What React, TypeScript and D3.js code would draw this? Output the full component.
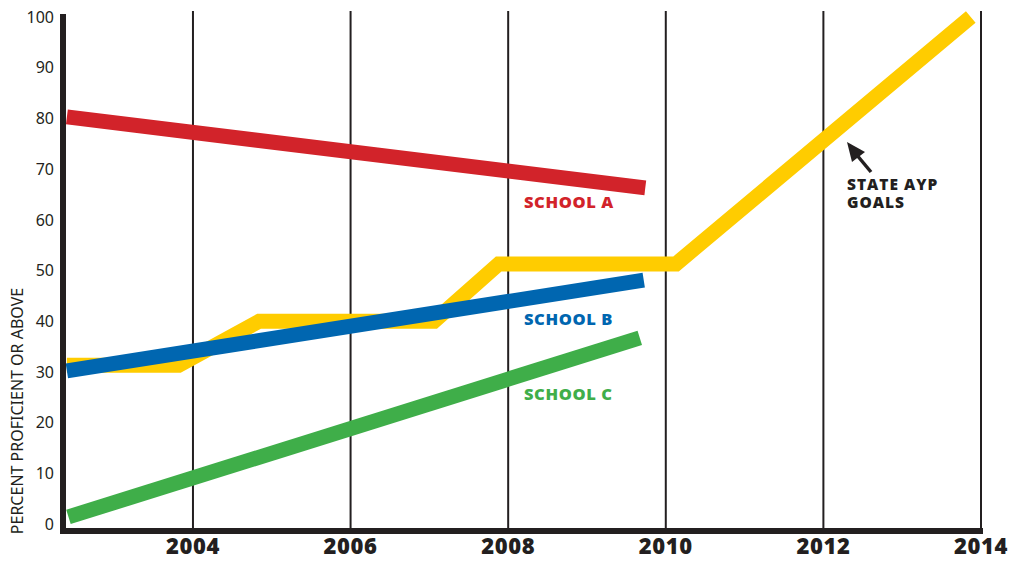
import * as d3 from 'd3';

// years on the x axis, percent on y
const yearTicks = [2004, 2006, 2008, 2010, 2012, 2014];
const valueTicks = [0, 10, 20, 30, 40, 50, 60, 70, 80, 90, 100];

const schoolAYears = [2002.4, 2009.74];
const schoolAValues = [80.3, 66.3];
const schoolBYears = [2002.4, 2009.72];
const schoolBValues = [30.2, 48.1];
const schoolCYears = [2002.42, 2009.67];
const schoolCValues = [1.4, 36.7];
const goalYears = [2002.4, 2003.82, 2004.84, 2007.06, 2007.88, 2010.13, 2013.87];
const goalValues = [31.3, 31.3, 40, 40, 51.3, 51.3, 100];

const seriesNames = ['SCHOOL A', 'SCHOOL B', 'SCHOOL C'];
const seriesColors = ['#d2232a', '#0066b0', '#3fae49'];

const W = 1012;
const H = 561;

export default function App() {
  const x = d3.scaleLinear().domain([2002.3, 2014]).range([59, 981]);
  const y = d3.scaleLinear().domain([0, 100]).range([524, 17]);

  const line = d3
    .line<[number, number]>()
    .x((d) => x(d[0]))
    .y((d) => y(d[1]));

  const zip = (xs: number[], ys: number[]) => xs.map((v, i) => [v, ys[i]] as [number, number]);

  const schools = [
    zip(schoolAYears, schoolAValues),
    zip(schoolBYears, schoolBValues),
    zip(schoolCYears, schoolCValues),
  ];
  const goal = zip(goalYears, goalValues);

  // baseline of each series label, in percent
  const labelValues = [62.4, 39.3, 24.4];
  const axisY = 531;
  const x0 = 63;

  return (
    <svg
      width={W}
      height={H}
      style={{ position: 'absolute', left: 0, top: 0, background: '#fff' }}
    >
      {/* vertical grid lines */}
      {yearTicks.map((t) => (
        <line key={t} x1={x(t)} x2={x(t)} y1={11} y2={axisY} stroke="#231f20" strokeWidth={2} />
      ))}

      {/* state goals line */}
      <path
        d={line(goal) || ''}
        fill="none"
        stroke="#ffcc00"
        strokeWidth={15}
        strokeLinejoin="miter"
        strokeLinecap="butt"
      />

      {schools.map((s, i) => (
        <path
          key={i}
          d={line(s) || ''}
          fill="none"
          stroke={seriesColors[i]}
          strokeWidth={15}
          strokeLinecap="butt"
        />
      ))}

      {/* axes */}
      <line x1={x0} x2={x0} y1={14} y2={axisY + 3} stroke="#231f20" strokeWidth={6} />
      <line x1={60} x2={983} y1={axisY} y2={axisY} stroke="#231f20" strokeWidth={6} />

      {/* y tick labels */}
      {valueTicks.map((t) => (
        <text
          key={t}
          x={54}
          y={y(t)}
          dy="0.36em"
          textAnchor="end"
          fontFamily="'Noto Sans', sans-serif"
          fontSize={16}
          fill="#231f20"
        >
          {t}
        </text>
      ))}

      {/* x tick labels */}
      {yearTicks.map((t) => (
        <text
          key={t}
          x={x(t)}
          y={554}
          textAnchor="middle"
          fontFamily="'Open Sans', sans-serif"
          fontWeight={800}
          fontSize={22}
          letterSpacing={0.6}
          fill="#231f20"
        >
          {t}
        </text>
      ))}

      <text
        transform="translate(23,411) rotate(-90)"
        textAnchor="middle"
        fontFamily="'Noto Sans', sans-serif"
        fontSize={16}
        fill="#231f20"
      >
        PERCENT PROFICIENT OR ABOVE
      </text>

      {/* series labels */}
      {seriesNames.map((name, i) => (
        <text
          key={name}
          x={524}
          y={y(labelValues[i])}
          fontFamily="'Open Sans', sans-serif"
          fontWeight={800}
          fontSize={16.5}
          letterSpacing={0.6}
          fill={seriesColors[i]}
        >
          {name}
        </text>
      ))}

      {/* annotation */}
      <g
        fontFamily="'Open Sans', sans-serif"
        fontWeight={800}
        fontSize={15.5}
        letterSpacing={1}
        fill="#231f20"
      >
        <text x={847} y={190}>STATE AYP</text>
        <text x={847} y={208}>GOALS</text>
      </g>
      <line x1={871} y1={172} x2={856} y2={154} stroke="#231f20" strokeWidth={3.5} />
      <path d="M847,142 L865,152 L852,162 Z" fill="#231f20" />
    </svg>
  );
}
